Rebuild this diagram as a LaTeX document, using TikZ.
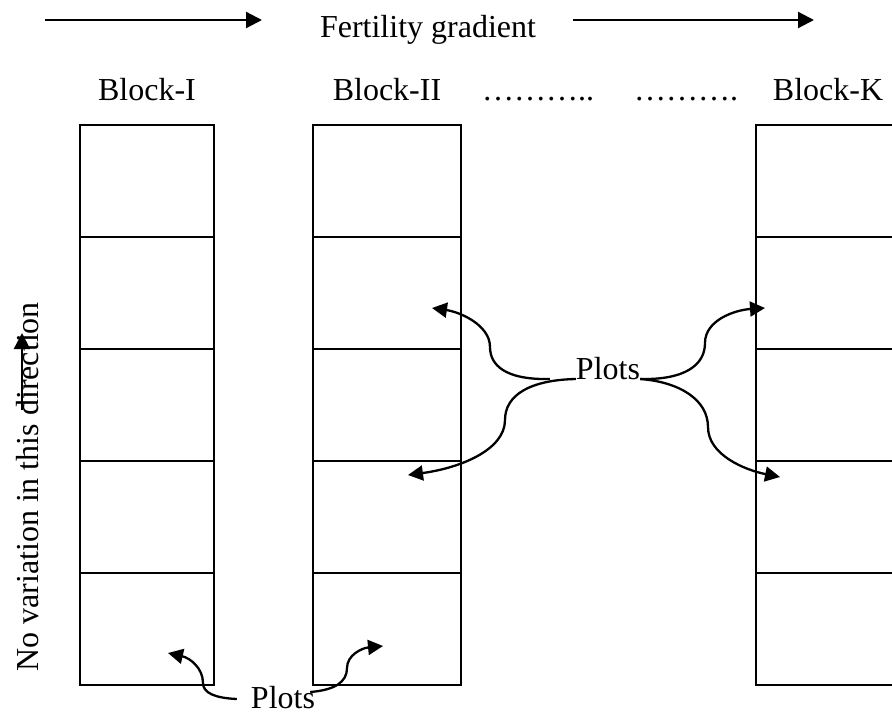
\documentclass[tikz,border=0pt]{standalone}
\usepackage{fontspec}
\setmainfont{Liberation Serif}
\usetikzlibrary{arrows.meta}
\begin{document}
\begin{tikzpicture}[x=1pt,y=-1pt,
  lbl/.style={inner sep=0pt, font=\fontsize{32}{38}\selectfont},
  cell/.style={draw, line width=2.1pt, inner sep=0pt},
  bigarrow/.style={line width=2.3pt, -{Triangle[length=16pt,width=16pt]}},
  plotarrow/.style={line width=2.3pt, -{Triangle[length=15pt,width=15pt]}}]
\useasboundingbox (0,0) rectangle (892,715);
\clip (0,0) rectangle (892,715);

% top arrows and title
\coordinate (a1s) at (45,20);
\coordinate (a1e) at (262,20);
\coordinate (a2s) at (573,20);
\coordinate (a2e) at (814,20);
\draw[bigarrow] (a1s) -- (a1e);
\draw[bigarrow] (a2s) -- (a2e);
\node[lbl, anchor=base] (fert) at (428,37) {Fertility gradient};

% block labels
\node[lbl, anchor=base] (l1) at (147,100) {Block-I};
\node[lbl, anchor=base] (l2) at (387,100) {Block-II};
\node[lbl, anchor=base west] (d1) at (482,100) {………..};
\node[lbl, anchor=base west] (d2) at (634,100) {……….};
\node[lbl, anchor=base] (lk) at (828,100) {Block-K};

% blocks of plots
\foreach \b/\x/\w in {1/147/134, 2/387/148, k/830/148} {
  \foreach \r in {1,...,5} {
    \node[cell, minimum width=\w, minimum height=112] (b\b r\r) at (\x,{69+112*\r}) {};
  }
}

% vertical label and arrow
\node[lbl, rotate=90] (nv) at (28,487) {No variation in this direction};
\coordinate (vs) at (22,410);
\coordinate (ve) at (22,333);
\draw[bigarrow] (vs) -- (ve);

% middle Plots label with four arrows
\node[lbl, anchor=base] (pm) at (608,379) {Plots};
\coordinate (ul) at (432,308);
\coordinate (ll) at (408,475);
\coordinate (ur) at (765,308);
\coordinate (lr) at (780,477);
\draw[plotarrow] ([xshift=-26pt]pm.base west) .. controls (505,380) and (490,365) .. (490,347)
  .. controls (490,325) and (460,312) .. (ul);
\draw[plotarrow] (pm.base west) .. controls (530,380) and (505,395) .. (505,420)
  .. controls (505,450) and (460,468) .. (ll);
\draw[plotarrow] (pm.base east) .. controls (685,380) and (705,365) .. (705,343)
  .. controls (705,320) and (735,310) .. (ur);
\draw[plotarrow] (pm.base east) .. controls (680,382) and (708,400) .. (708,427)
  .. controls (708,455) and (745,470) .. (lr);

% bottom Plots label with two arrows
\node[lbl, anchor=base] (pb) at (283,708) {Plots};
\coordinate (bl) at (168,653);
\coordinate (br) at (383,646);
\draw[plotarrow] ([xshift=-14pt,yshift=9pt]pb.base west) .. controls (215,698) and (203,693) .. (203,683)
  .. controls (203,668) and (190,658) .. (bl);
\draw[plotarrow] ([xshift=-5pt,yshift=16pt]pb.base east) .. controls (335,690) and (347,682) .. (347,668)
  .. controls (347,655) and (362,648) .. (br);
\end{tikzpicture}
\end{document}
